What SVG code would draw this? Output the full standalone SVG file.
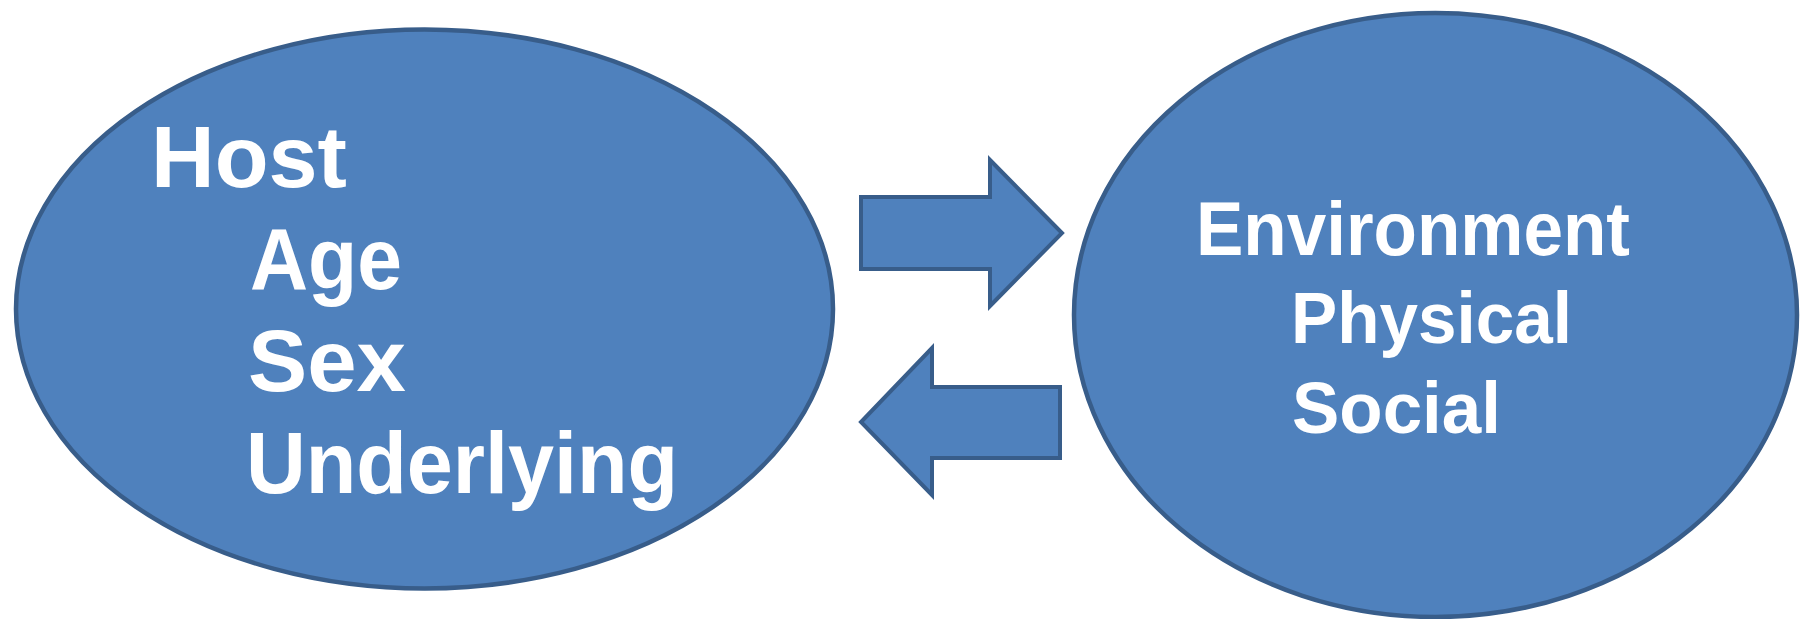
<svg xmlns="http://www.w3.org/2000/svg" width="1800" height="619" viewBox="0 0 1800 619">
  <style>
    .shape { fill: #4F81BD; stroke: #385D8A; stroke-width: 4.5; }
    .arrow { fill: #4F81BD; stroke: #385D8A; stroke-width: 4; stroke-linejoin: miter; }
    .lbl { fill: #FFFFFF; font-family: 'Comic Sans MS', 'Liberation Sans', 'DejaVu Sans', sans-serif; font-weight: bold; }
    .big { font-size: 88px; }
    .mid { font-size: 76px; }
    .sm { font-size: 73px; }
  </style>
  <rect x="0" y="0" width="1800" height="619" fill="#FFFFFF"/>
  <g id="host">
    <ellipse class="shape" cx="424.5" cy="309" rx="408.5" ry="279.5"/>
    <text class="lbl big" x="151" y="187" textLength="196" lengthAdjust="spacingAndGlyphs">Host</text>
    <text class="lbl big" x="250" y="289" textLength="152" lengthAdjust="spacingAndGlyphs">Age</text>
    <text class="lbl big" x="248" y="391" textLength="158" lengthAdjust="spacingAndGlyphs">Sex</text>
    <text class="lbl big" x="246" y="493" textLength="432" lengthAdjust="spacingAndGlyphs">Underlying</text>
  </g>
  <g id="environment">
    <ellipse class="shape" cx="1435.5" cy="315" rx="361.5" ry="302"/>
    <text class="lbl mid" x="1196" y="255" textLength="434" lengthAdjust="spacingAndGlyphs">Environment</text>
    <text class="lbl sm" x="1291" y="343" textLength="281" lengthAdjust="spacingAndGlyphs">Physical</text>
    <text class="lbl sm" x="1292" y="433" textLength="209" lengthAdjust="spacingAndGlyphs">Social</text>
  </g>
  <g id="connectors">
    <polygon id="arrow-host-to-environment" class="arrow" points="861,197 990,197 990,160 1062,233 990,306 990,269 861,269"/>
    <polygon id="arrow-environment-to-host" class="arrow" points="1060,387 932,387 932,348 861,422 932,495 932,458 1060,458"/>
  </g>
</svg>
